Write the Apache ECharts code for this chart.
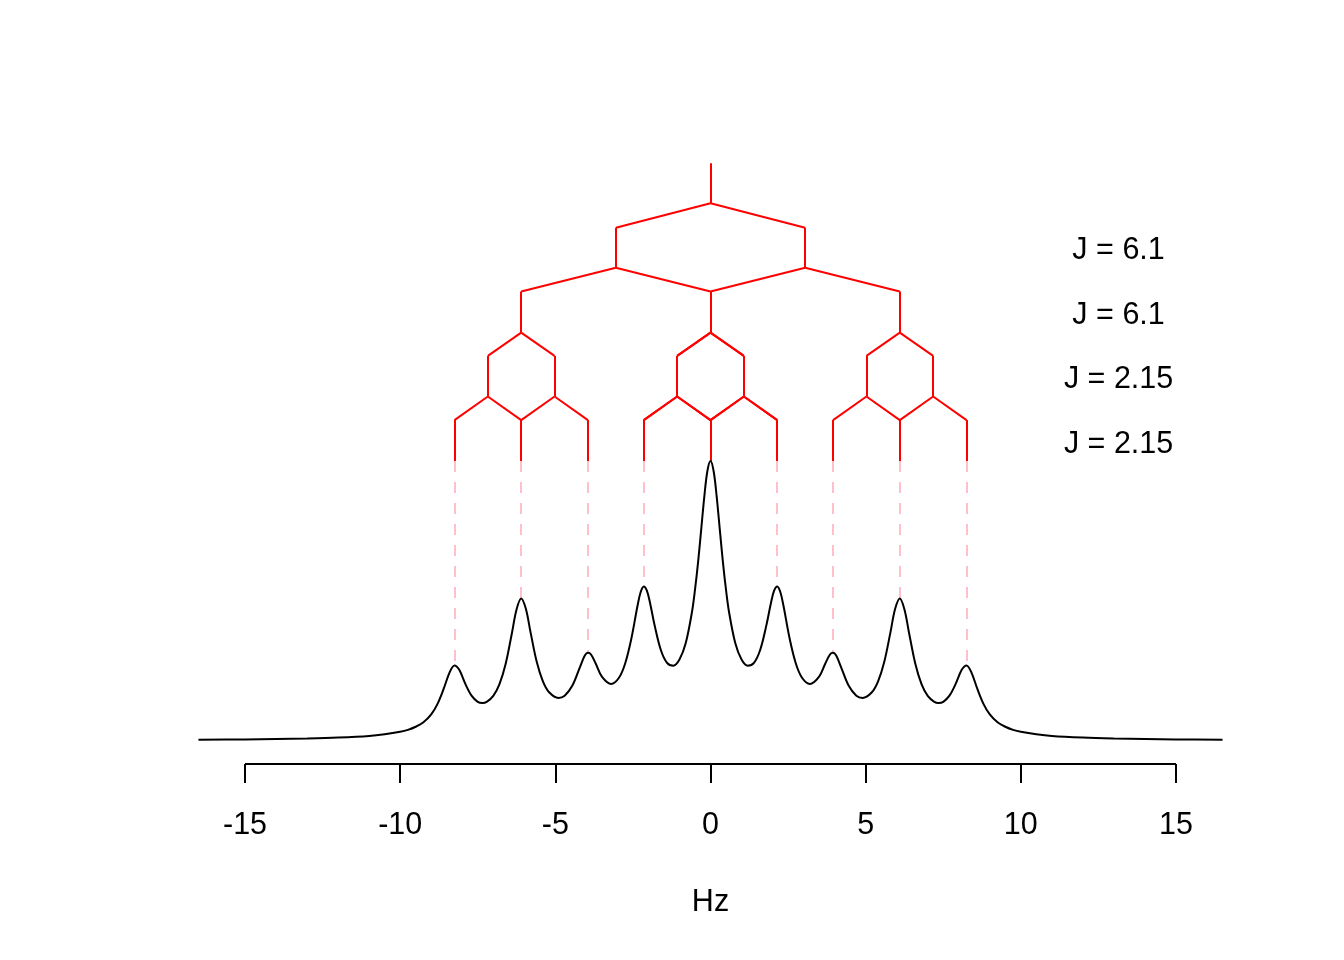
<!DOCTYPE html>
<html>
<head>
<meta charset="utf-8">
<script src="https://cdn.jsdelivr.net/npm/echarts@6/dist/echarts.min.js"></script>
<style>
html,body{margin:0;padding:0;background:#ffffff;}
#chart{width:1344px;height:960px;}
</style>
</head>
<body>
<div id="chart"></div>
<script>
// Coupling constants (Hz) and their text labels
const couplings = [6.1, 6.1, 2.15, 2.15];
const couplingLabels = ['J = 6.1', 'J = 6.1', 'J = 2.15', 'J = 2.15'];
const couplingLabelX = [13.15, 13.15, 13.15, 13.15];
const couplingLabelY = [1.750, 1.519, 1.289, 1.060];

// Heights of the splitting-tree levels (top to bottom)
const treeLevels = [2.063, 1.920, 1.833, 1.690, 1.605, 1.458, 1.375, 1.230, 1.146, 1.0];

// Line positions (Hz) and the spectrum height at each line (dashed guides)
const peakX = [-8.25, -6.1, -3.95, -2.15, 0, 2.15, 3.95, 6.1, 8.25];
const peakTop = [0.270, 0.509, 0.315, 0.552, 1.0, 0.552, 0.315, 0.509, 0.270];

// Spectrum (Hz, relative intensity)
const specX = [-16.5, -15, -14, -13, -12, -11, -10.5, -10, -9.75, -9.5, -9.25, -9.0, -8.8, -8.6, -8.4, -8.25, -8.1, -7.9, -7.7, -7.5, -7.35, -7.2, -7.0, -6.8, -6.6, -6.4, -6.25, -6.1, -5.95, -5.8, -5.6, -5.4, -5.2, -4.9, -4.7, -4.45, -4.2, -4.05, -3.95, -3.85, -3.7, -3.5, -3.2, -2.95, -2.75, -2.55, -2.35, -2.25, -2.15, -2.05, -1.95, -1.8, -1.6, -1.4, -1.2, -1.0, -0.8, -0.6, -0.5, -0.4, -0.3, -0.2, -0.1,
  0,
  0.1, 0.2, 0.3, 0.4, 0.5, 0.6, 0.8, 1.0, 1.2, 1.4, 1.6, 1.8, 1.95, 2.05, 2.15, 2.25, 2.35, 2.55, 2.75, 2.95, 3.2, 3.5, 3.7, 3.85, 3.95, 4.05, 4.2, 4.45, 4.7, 4.9, 5.2, 5.4, 5.6, 5.8, 5.95, 6.1, 6.25, 6.4, 6.6, 6.8, 7.0, 7.2, 7.35, 7.5, 7.7, 7.9, 8.1, 8.25, 8.4, 8.6, 8.8, 9.0, 9.25, 9.5, 9.75, 10, 10.5, 11, 12, 13, 14, 15, 16.5];
const specY = [0.0046, 0.0059, 0.0073, 0.0093, 0.0125, 0.018, 0.024, 0.033, 0.040, 0.051, 0.067, 0.095, 0.132, 0.186, 0.247, 0.270, 0.255, 0.204, 0.162, 0.140, 0.136, 0.141, 0.161, 0.203, 0.276, 0.385, 0.470, 0.509, 0.472, 0.389, 0.283, 0.213, 0.174, 0.154, 0.162, 0.198, 0.266, 0.305, 0.315, 0.309, 0.277, 0.230, 0.204, 0.226, 0.277, 0.366, 0.484, 0.532, 0.552, 0.537, 0.494, 0.413, 0.325, 0.279, 0.269, 0.291, 0.349, 0.459, 0.540, 0.639, 0.755, 0.872, 0.964,
  1.000,
  0.964, 0.872, 0.755, 0.639, 0.540, 0.459, 0.349, 0.291, 0.269, 0.279, 0.325, 0.413, 0.494, 0.537, 0.552, 0.532, 0.484, 0.366, 0.277, 0.226, 0.204, 0.230, 0.277, 0.309, 0.315, 0.305, 0.266, 0.198, 0.162, 0.154, 0.174, 0.213, 0.283, 0.389, 0.472, 0.509, 0.470, 0.385, 0.276, 0.203, 0.161, 0.141, 0.136, 0.140, 0.162, 0.204, 0.255, 0.270, 0.247, 0.186, 0.132, 0.095, 0.067, 0.051, 0.040, 0.033, 0.024, 0.018, 0.0125, 0.0093, 0.0073, 0.0059, 0.0046];

// Axis ticks and ranges
const xTicks = [-15, -10, -5, 0, 5, 10, 15];
const xRange = [-17.82, 17.82];
const yRange = [-0.082, 2.146];
const xAxisName = 'Hz';

// ---- build chart data from the arrays ----
const spectrum = specX.map((x, i) => [x, specY[i]]);

let positions = [0];
const treeSegs = [];
for (let i = 0; i < couplings.length; i++) {
  const top = treeLevels[2 * i], mid = treeLevels[2 * i + 1], bot = treeLevels[2 * i + 2];
  const half = couplings[i] / 2;
  const next = [];
  positions.forEach(p => {
    treeSegs.push({ coords: [[p, top], [p, mid]] });
    treeSegs.push({ coords: [[p, mid], [p - half, bot]] });
    treeSegs.push({ coords: [[p, mid], [p + half, bot]] });
    next.push(p - half, p + half);
  });
  positions = next;
}
positions.forEach(p => {
  treeSegs.push({ coords: [[p, treeLevels[2 * couplings.length]], [p, treeLevels[2 * couplings.length + 1]]] });
});

const guideSegs = peakX.map((x, i) => ({ coords: [[x, treeLevels[treeLevels.length - 1]], [x, peakTop[i]]] }));
const labelData = couplingLabels.map((t, i) => [couplingLabelX[i], couplingLabelY[i], t]);
const axisLineSeg = [{ coords: [[xTicks[0], yRange[0]], [xTicks[xTicks.length - 1], yRange[0]]] }];

const FONT = '"Liberation Sans", Arial, Helvetica, sans-serif';
const FS = 30.5;

const chart = echarts.init(document.getElementById('chart'), null, { renderer: 'canvas' });
chart.setOption({
  animation: false,
  backgroundColor: '#ffffff',
  grid: { left: 157.5, right: 80.5, top: 140, bottom: 196, containLabel: false },
  xAxis: {
    type: 'value',
    min: xRange[0], max: xRange[1],
    name: xAxisName,
    nameLocation: 'middle',
    nameGap: 123,
    nameTextStyle: { fontSize: FS, color: '#000', fontFamily: FONT },
    axisLine: { show: false, onZero: false },
    axisTick: { show: true, length: 19, customValues: xTicks, lineStyle: { color: '#000', width: 2 } },
    axisLabel: { show: true, customValues: xTicks, fontSize: FS, color: '#000', margin: 46, fontFamily: FONT },
    splitLine: { show: false }
  },
  yAxis: {
    type: 'value',
    min: yRange[0], max: yRange[1],
    show: false,
    splitLine: { show: false }
  },
  series: [
    {
      type: 'lines',
      coordinateSystem: 'cartesian2d',
      data: axisLineSeg,
      clip: false,
      lineStyle: { color: '#000', width: 2, opacity: 1 },
      z: 2,
      silent: true
    },
    {
      type: 'lines',
      coordinateSystem: 'cartesian2d',
      data: guideSegs,
      lineStyle: { color: '#FFC0CB', width: 2, type: [11, 10], opacity: 1 },
      z: 2,
      silent: true
    },
    {
      type: 'lines',
      coordinateSystem: 'cartesian2d',
      data: treeSegs,
      lineStyle: { color: '#FF0000', width: 2, type: 'solid', opacity: 1, cap: 'butt' },
      z: 3,
      silent: true
    },
    {
      type: 'line',
      data: spectrum,
      showSymbol: false,
      smooth: 0.35,
      lineStyle: { color: '#000', width: 2 },
      z: 4,
      silent: true
    },
    {
      type: 'custom',
      data: labelData,
      silent: true,
      z: 5,
      renderItem: (params, api) => {
        const pt = api.coord([api.value(0), api.value(1)]);
        return {
          type: 'text',
          x: pt[0],
          y: pt[1],
          style: {
            text: labelData[params.dataIndex][2],
            fill: '#000000',
            fontSize: FS,
            fontFamily: FONT,
            align: 'center',
            verticalAlign: 'middle'
          }
        };
      }
    }
  ]
});
</script>
</body>
</html>
